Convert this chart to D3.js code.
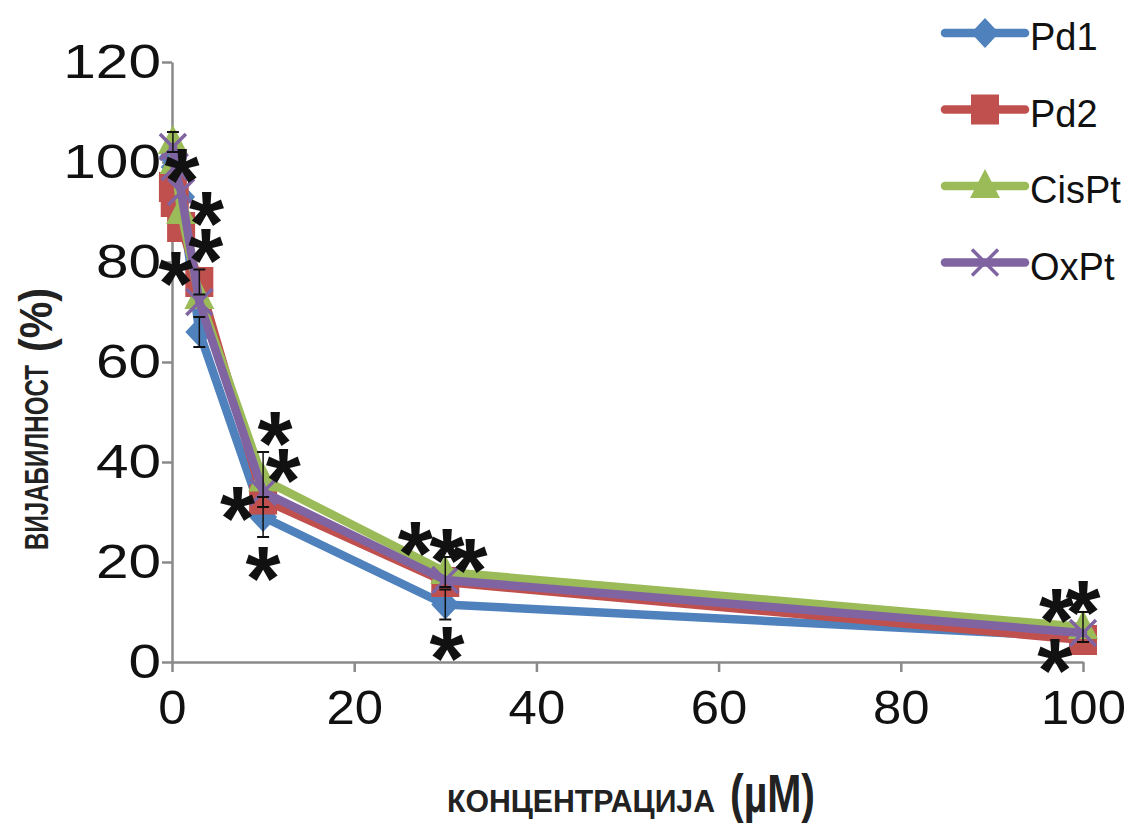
<!DOCTYPE html>
<html>
<head>
<meta charset="utf-8">
<script src="https://cdn.jsdelivr.net/npm/d3@7"></script>
<style>
  body { margin: 0; background: #fff; }
  svg { display: block; }
  text { font-family: "Liberation Sans", Arial, sans-serif; }
</style>
</head>
<body>
<div id="chart"></div>
<script>
// concentrations (µM) and viability (%) per compound
const concentrations = [0.1, 0.3, 1, 3, 10, 30, 100];
const seriesNames = ["Pd1", "Pd2", "CisPt", "OxPt"];
const pd1 = [101, 99, 93, 66, 29, 11.5, 5];
const pd2 = [95, 92, 87, 76, 32.5, 16, 4.4];
const cisPt = [104, 100, 90, 73, 36.5, 18, 7];
const oxPt = [103, 99, 94, 72, 34, 16.4, 5.8];

// error bar half-lengths (0 = not visible)
const pd1Err = [0, 0, 0, 3, 4, 3, 0];
const pd2Err = [0, 0, 0, 2.5, 0, 0, 0];
const cisPtErr = [2, 0, 0, 0, 5.5, 3, 3];
const oxPtErr = [0, 0, 0, 0, 0, 0, 0];

// significance asterisks in data units [concentration, viability]
const starX = [1.1, 3.8, 3.7, 0.4, 11.3, 12.2, 7.2, 10, 26.7, 30.2, 32.7, 30.2, 97.1, 100, 96.9];
const starY = [99.4, 90.8, 83.4, 78.8, 46.8, 39.4, 31.8, 19.8, 24.8, 23.4, 21.4, 3.8, 11.4, 13, 1.4];

const xTicks = [0, 20, 40, 60, 80, 100];
const yTicks = [0, 20, 40, 60, 80, 100, 120];

const colors = ["#4F81BD", "#C0504D", "#9BBB59", "#8064A2"];
const markers = ["diamond", "square", "triangle", "cross"];
const values = [pd1, pd2, cisPt, oxPt];
const errors = [pd1Err, pd2Err, cisPtErr, oxPtErr];

const width = 1129, height = 825;
const svg = d3.select("#chart").append("svg")
  .attr("width", width)
  .attr("height", height);

const x = d3.scaleLinear().domain([0, 100]).range([172, 1083]);
const y = d3.scaleLinear().domain([0, 120]).range([662, 62]);

// axes
const axisColor = "#8a8a8a";
const yAxis = svg.append("g")
  .attr("transform", `translate(${x(0)},0)`)
  .call(d3.axisLeft(y).tickValues(yTicks).tickSize(10).tickSizeOuter(0).tickPadding(1));
const xAxis = svg.append("g")
  .attr("transform", `translate(0,${y(0)})`)
  .call(d3.axisBottom(x).tickValues(xTicks).tickSize(10).tickSizeOuter(0).tickPadding(18));

[xAxis, yAxis].forEach(a => {
  a.select(".domain").attr("stroke", axisColor).attr("stroke-width", 2.5);
  a.selectAll(".tick line").attr("stroke", axisColor).attr("stroke-width", 2.5);
  a.selectAll(".tick text")
    .attr("fill", "#111")
    .style("font-size", "48px")
    .style("font-family", "'Liberation Sans', Arial, sans-serif");
});

// y tick labels are drawn wider in the reference
yAxis.selectAll(".tick text").each(function() {
  const len = this.getComputedTextLength();
  d3.select(this).attr("textLength", len * 1.22).attr("lengthAdjust", "spacingAndGlyphs");
});
xAxis.selectAll(".tick text").each(function() {
  const len = this.getComputedTextLength();
  d3.select(this).attr("textLength", len * 1.06).attr("lengthAdjust", "spacingAndGlyphs");
});

// marker drawing
function drawMarker(g, type, cx, cy, color) {
  if (type === "diamond") {
    g.append("path").attr("d", `M${cx},${cy - 15}L${cx + 14},${cy}L${cx},${cy + 15}L${cx - 14},${cy}Z`).attr("fill", color);
  } else if (type === "square") {
    g.append("rect").attr("x", cx - 14).attr("y", cy - 15).attr("width", 28).attr("height", 30).attr("fill", color);
  } else if (type === "triangle") {
    g.append("path").attr("d", `M${cx},${cy - 17}L${cx + 15},${cy + 12}L${cx - 15},${cy + 12}Z`).attr("fill", color);
  } else {
    g.append("path").attr("d", `M${cx - 13},${cy - 13}L${cx + 13},${cy + 13}M${cx + 13},${cy - 13}L${cx - 13},${cy + 13}`)
      .attr("stroke", color).attr("stroke-width", 3.5).attr("fill", "none");
  }
}

const line = d3.line()
  .x((d, i) => x(concentrations[i]))
  .y(d => y(d));

// series: line then markers, in order so later ones sit on top
values.forEach((vals, s) => {
  const g = svg.append("g");
  g.append("path")
    .datum(vals)
    .attr("d", line)
    .attr("fill", "none")
    .attr("stroke", colors[s])
    .attr("stroke-width", 8.5)
    .attr("stroke-linejoin", "round")
    .attr("stroke-linecap", "round");
  vals.forEach((v, i) => drawMarker(g, markers[s], x(concentrations[i]), y(v), colors[s]));
});

// error bars
const errG = svg.append("g").attr("stroke", "#111").attr("stroke-width", 2);
values.forEach((vals, s) => {
  vals.forEach((v, i) => {
    const e = errors[s][i];
    if (!e) return;
    const cx = x(concentrations[i]);
    errG.append("line").attr("x1", cx).attr("x2", cx).attr("y1", y(v + e)).attr("y2", y(v - e)).attr("stroke-width", 1.5);
    [v + e, v - e].forEach(end => {
      errG.append("line").attr("x1", cx - 6).attr("x2", cx + 6).attr("y1", y(end)).attr("y2", y(end));
    });
  });
});

// asterisks
svg.append("g").selectAll("text")
  .data(starX)
  .enter()
  .append("text")
  .attr("x", d => x(d))
  .attr("y", (d, i) => y(starY[i]) + 47)
  .attr("text-anchor", "middle")
  .attr("fill", "#111")
  .style("font-size", "90px")
  .style("font-weight", "bold")
  .text("*");

// legend
const legend = svg.append("g");
seriesNames.forEach((name, s) => {
  const ly = 33 + s * 76.5;
  legend.append("line")
    .attr("x1", 945).attr("x2", 1025).attr("y1", ly).attr("y2", ly)
    .attr("stroke", colors[s]).attr("stroke-width", 8.5).attr("stroke-linecap", "round");
  drawMarker(legend, markers[s], 985, ly, colors[s]);
  legend.append("text")
    .attr("x", 1030).attr("y", ly + 17)
    .attr("fill", "#111")
    .style("font-size", "38px")
    .text(name);
});

// axis titles
svg.append("text")
  .attr("x", 447).attr("y", 812)
  .attr("fill", "#222")
  .style("font-size", "32px").style("font-weight", "bold")
  .attr("textLength", 268).attr("lengthAdjust", "spacingAndGlyphs")
  .text("КОНЦЕНТРАЦИЈА");
svg.append("text")
  .attr("x", 730).attr("y", 812)
  .attr("fill", "#222")
  .style("font-size", "54px").style("font-weight", "bold")
  .attr("textLength", 85).attr("lengthAdjust", "spacingAndGlyphs")
  .text("(µM)");

const yTitle = svg.append("g").attr("transform", "translate(48,0) rotate(-90)");
yTitle.append("text")
  .attr("x", -550).attr("y", 0)
  .attr("fill", "#222")
  .style("font-size", "34px").style("font-weight", "bold")
  .attr("textLength", 185).attr("lengthAdjust", "spacingAndGlyphs")
  .text("ВИЈАБИЛНОСТ");
yTitle.append("text")
  .attr("x", -352).attr("y", 4)
  .attr("fill", "#222")
  .style("font-size", "46px").style("font-weight", "bold")
  .attr("textLength", 64).attr("lengthAdjust", "spacingAndGlyphs")
  .text("(%)");
</script>
</body>
</html>
